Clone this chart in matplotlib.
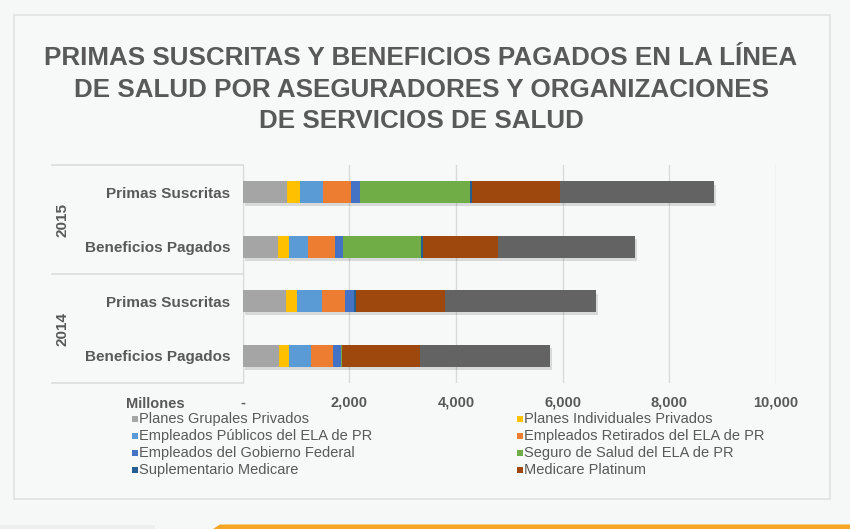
import matplotlib
matplotlib.use("Agg")
import matplotlib.pyplot as plt
from matplotlib.patches import Rectangle, Polygon
import numpy as np

plt.rcParams["font.family"] = ["Liberation Sans", "DejaVu Sans"]

# --- Datos (millones) ---
categorias = ["Primas Suscritas", "Beneficios Pagados", "Primas Suscritas", "Beneficios Pagados"]
anios = ["2015", "2014"]

grupales = [831, 663, 806, 681]
individuales = [244, 206, 213, 188]
publicos = [431, 356, 463, 413]
retirados = [525, 506, 438, 406]
federal = [163, 150, 163, 156]
seguro_ela = [2069, 1463, 0, 19]
suplementario = [31, 38, 38, 8]
platinum = [1656, 1400, 1675, 1450]
otros = [2888, 2575, 2831, 2438]

series = [grupales, individuales, publicos, retirados, federal,
          seguro_ela, suplementario, platinum, otros]
nombres = ["Planes Grupales Privados", "Planes Individuales Privados",
           "Empleados Públicos del ELA de PR", "Empleados Retirados del ELA de PR",
           "Empleados del Gobierno Federal", "Seguro de Salud del ELA de PR",
           "Suplementario Medicare", "Medicare Platinum", None]
colores = ["#A5A5A5", "#FFC000", "#5B9BD5", "#ED7D31", "#4472C4",
           "#70AD47", "#255E91", "#9E480E", "#636363"]

xticks = [0, 2000, 4000, 6000, 8000, 10000]
xticklabels = ["-", "2,000", "4,000", "6,000", "8,000", "10,000"]

gris_texto = "#595959"
W, H = 850, 529

fig = plt.figure(figsize=(8.5, 5.29), dpi=100)
fig.patch.set_facecolor("#F6F7F7")

# panel
fig.patches.append(Rectangle((14 / W, 1 - 499 / H), (830 - 14) / W, (499 - 15) / H,
                             transform=fig.transFigure, facecolor="#F7F8F8",
                             edgecolor="#E2E2E2", lw=1.2, zorder=-10))
# franja inferior
fig.patches.append(Polygon([(213 / W, 0), (220 / W, 4.5 / H), (1, 4.5 / H), (1, 0)],
                           closed=True, transform=fig.transFigure,
                           facecolor="#F5A623", edgecolor="none", zorder=-10))
fig.patches.append(Rectangle((0, 0), 155 / W, 4.5 / H, transform=fig.transFigure,
                             facecolor="#EDEEEE", edgecolor="none", zorder=-10))

# titulo
titulo = ["PRIMAS SUSCRITAS Y BENEFICIOS PAGADOS EN LA LÍNEA",
          "DE SALUD POR ASEGURADORES Y ORGANIZACIONES",
          "DE SERVICIOS DE SALUD"]
for linea, yb in zip(titulo, [65, 97, 128]):
    fig.text(421 / W, 1 - yb / H, linea, ha="center", va="baseline",
             fontsize=18.7, fontweight="bold", color=gris_texto)

x0, x1 = 242.7, 776
ax = fig.add_axes([x0 / W, 1 - 383 / H, (x1 - x0) / W, (383 - 165) / H])
ax.set_facecolor("none")

y = np.arange(len(categorias))
totales = np.sum(series, axis=0)
# sombra
ax.barh(y + 0.06, totales, left=40, height=0.4, color="#000000", alpha=0.12, zorder=2)
izq = np.zeros(len(categorias))
for vals, col in zip(series, colores):
    ax.barh(y, vals, left=izq, height=0.4, color=col, zorder=3)
    izq += np.array(vals)

ax.set_xlim(0, 10000)
ax.set_ylim(len(categorias) - 0.5, -0.5)
ax.set_xticks(xticks)
ax.set_xticklabels(xticklabels, fontsize=10.5, fontweight="bold", color=gris_texto)
ax.set_yticks(y)
ax.set_yticklabels(categorias, fontsize=11, fontweight="bold", color=gris_texto)
ax.tick_params(axis="x", length=0, pad=9)
ax.tick_params(axis="y", length=0, pad=9)
ax.grid(axis="x", color="#DADADA", lw=1, zorder=0)
for s in ["top", "right", "bottom"]:
    ax.spines[s].set_visible(False)
ax.spines["left"].set_color("#D9D9D9")

# marco de categorias
xl = (52 - x0) / (x1 - x0)
for yy in [-0.5, 1.5, 3.5]:
    ax.plot([xl, 0], [yy, yy], transform=ax.get_yaxis_transform(), color="#DDDDDD",
            lw=1.2, clip_on=False)
for anio, yc in zip(anios, [0.5, 2.5]):
    ax.text(63 / W, yc, anio, transform=matplotlib.transforms.blended_transform_factory(
        fig.transFigure, ax.transData), rotation=90, ha="center", va="center",
        fontsize=11, fontweight="bold", color=gris_texto)

fig.text(126 / W, 1 - 404 / H, "Millones", ha="left", va="center",
         fontsize=10.5, fontweight="bold", color=gris_texto)

# leyenda
for i, (nom, col) in enumerate(zip(nombres, colores)):
    if nom is None:
        continue
    fila, colm = i // 2, i % 2
    xm = [132, 517][colm]
    yc = 418 + 17 * fila
    fig.patches.append(Rectangle((xm / W, 1 - (yc + 3.5) / H), 6 / W, 6 / H,
                                 transform=fig.transFigure, facecolor=col,
                                 edgecolor="none"))
    fig.text((xm + 7) / W, 1 - (yc + 1) / H, nom, ha="left", va="center",
             fontsize=10.5, color=gris_texto)

fig.savefig("out.png", dpi=100, facecolor=fig.get_facecolor())
